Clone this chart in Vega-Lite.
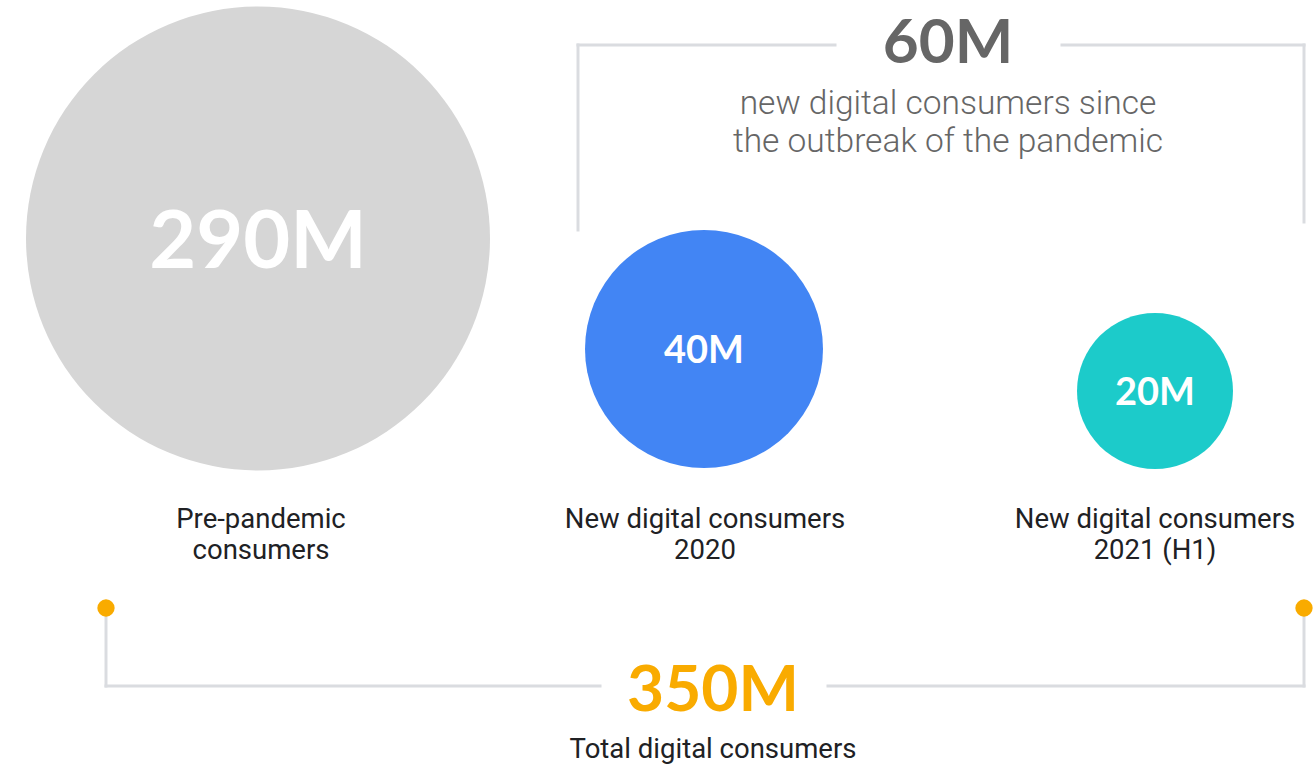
{
  "$schema": "https://vega.github.io/schema/vega-lite/v6.json",
  "width": 1315,
  "height": 764,
  "autosize": {"type": "fit", "contains": "padding"},
  "padding": 0,
  "background": "white",
  "config": {"view": {"stroke": null}, "axis": {"disable": true}, "legend": {"disable": true}},
  "datasets": {
    "circles": [
      {"segment": "Pre-pandemic consumers", "value": 290, "label": "290M", "cx": 258, "cy": 238.5, "ly": 268},
      {"segment": "New digital consumers 2020", "value": 40, "label": "40M", "cx": 704, "cy": 349, "ly": 363},
      {"segment": "New digital consumers 2021 (H1)", "value": 20, "label": "20M", "cx": 1155, "cy": 391, "ly": 405}
    ],
    "captions": [
      {"text": "Pre-pandemic", "x": 261, "y": 528},
      {"text": "consumers", "x": 261, "y": 559},
      {"text": "New digital consumers", "x": 705, "y": 528},
      {"text": "2020", "x": 705, "y": 559},
      {"text": "New digital consumers", "x": 1155, "y": 528},
      {"text": "2021 (H1)", "x": 1155, "y": 559},
      {"text": "Total digital consumers", "x": 713, "y": 758}
    ],
    "description": [
      {"text": "new digital consumers since", "x": 948, "y": 114},
      {"text": "the outbreak of the pandemic", "x": 948, "y": 152}
    ],
    "totals": [
      {"group": "new since pandemic", "value": 60, "label": "60M", "x": 948, "y": 63},
      {"group": "total", "value": 350, "label": "350M", "x": 713, "y": 711}
    ],
    "brackets": [
      {"group": "new since pandemic", "x": 578, "y": 230, "x2": 578, "y2": 45},
      {"group": "new since pandemic", "x": 578, "y": 45, "x2": 835, "y2": 45},
      {"group": "new since pandemic", "x": 1062, "y": 45, "x2": 1304, "y2": 45},
      {"group": "new since pandemic", "x": 1304, "y": 45, "x2": 1304, "y2": 222},
      {"group": "total", "x": 106, "y": 608, "x2": 106, "y2": 686},
      {"group": "total", "x": 106, "y": 686, "x2": 600, "y2": 686},
      {"group": "total", "x": 828, "y": 686, "x2": 1304, "y2": 686},
      {"group": "total", "x": 1304, "y": 686, "x2": 1304, "y2": 608}
    ],
    "endpoints": [
      {"group": "total", "x": 106, "y": 608},
      {"group": "total", "x": 1304, "y": 608}
    ]
  },
  "encoding": {
    "x": {"type": "quantitative", "scale": {"domain": [0, 1315], "nice": false, "zero": false}},
    "y": {"type": "quantitative", "scale": {"domain": [0, 764], "nice": false, "zero": false, "reverse": true}}
  },
  "layer": [
    {
      "data": {"name": "brackets"},
      "mark": {"type": "rule", "color": "#dadce0", "strokeWidth": 3, "strokeCap": "square"},
      "encoding": {
        "x": {"field": "x", "type": "quantitative"},
        "y": {"field": "y", "type": "quantitative"},
        "x2": {"field": "x2"},
        "y2": {"field": "y2"}
      }
    },
    {
      "data": {"name": "endpoints"},
      "mark": {"type": "point", "filled": true, "opacity": 1, "color": "#f9ab00", "size": 300},
      "encoding": {
        "x": {"field": "x", "type": "quantitative"},
        "y": {"field": "y", "type": "quantitative"}
      }
    },
    {
      "data": {"name": "circles"},
      "mark": {"type": "point", "filled": true, "opacity": 1, "shape": "circle"},
      "encoding": {
        "x": {"field": "cx", "type": "quantitative"},
        "y": {"field": "cy", "type": "quantitative"},
        "size": {"field": "segment", "type": "nominal", "scale": {"type": "ordinal", "domain": ["Pre-pandemic consumers", "New digital consumers 2020", "New digital consumers 2021 (H1)"], "range": [215296, 56644, 24336]}},
        "color": {"field": "segment", "type": "nominal", "scale": {"domain": ["Pre-pandemic consumers", "New digital consumers 2020", "New digital consumers 2021 (H1)"], "range": ["#d6d6d6", "#4285f4", "#1ccbca"]}}
      }
    },
    {
      "data": {"name": "circles"},
      "transform": [{"filter": "datum.value > 100"}],
      "mark": {"type": "text", "font": "Lato", "fontWeight": "bold", "fontSize": 81, "color": "white", "align": "center", "baseline": "alphabetic"},
      "encoding": {
        "x": {"field": "cx", "type": "quantitative"},
        "y": {"field": "ly", "type": "quantitative"},
        "text": {"field": "label"}
      }
    },
    {
      "data": {"name": "circles"},
      "transform": [{"filter": "datum.value < 100"}],
      "mark": {"type": "text", "font": "Lato", "fontWeight": "bold", "fontSize": 38, "color": "white", "align": "center", "baseline": "alphabetic"},
      "encoding": {
        "x": {"field": "cx", "type": "quantitative"},
        "y": {"field": "ly", "type": "quantitative"},
        "text": {"field": "label"}
      }
    },
    {
      "data": {"name": "totals"},
      "transform": [{"filter": "datum.group === 'new since pandemic'"}],
      "mark": {"type": "text", "font": "Lato", "fontWeight": "bold", "fontSize": 62, "color": "#666666", "align": "center", "baseline": "alphabetic"},
      "encoding": {
        "x": {"field": "x", "type": "quantitative"},
        "y": {"field": "y", "type": "quantitative"},
        "text": {"field": "label"}
      }
    },
    {
      "data": {"name": "totals"},
      "transform": [{"filter": "datum.group === 'total'"}],
      "mark": {"type": "text", "font": "Lato", "fontWeight": "bold", "fontSize": 64, "color": "#f9ab00", "align": "center", "baseline": "alphabetic"},
      "encoding": {
        "x": {"field": "x", "type": "quantitative"},
        "y": {"field": "y", "type": "quantitative"},
        "text": {"field": "label"}
      }
    },
    {
      "data": {"name": "description"},
      "mark": {"type": "text", "font": "Roboto", "fontWeight": 300, "fontSize": 33.5, "color": "#666666", "align": "center", "baseline": "alphabetic"},
      "encoding": {
        "x": {"field": "x", "type": "quantitative"},
        "y": {"field": "y", "type": "quantitative"},
        "text": {"field": "text"}
      }
    },
    {
      "data": {"name": "captions"},
      "mark": {"type": "text", "font": "Roboto", "fontWeight": "normal", "fontSize": 27.5, "color": "#202124", "align": "center", "baseline": "alphabetic"},
      "encoding": {
        "x": {"field": "x", "type": "quantitative"},
        "y": {"field": "y", "type": "quantitative"},
        "text": {"field": "text"}
      }
    }
  ]
}
